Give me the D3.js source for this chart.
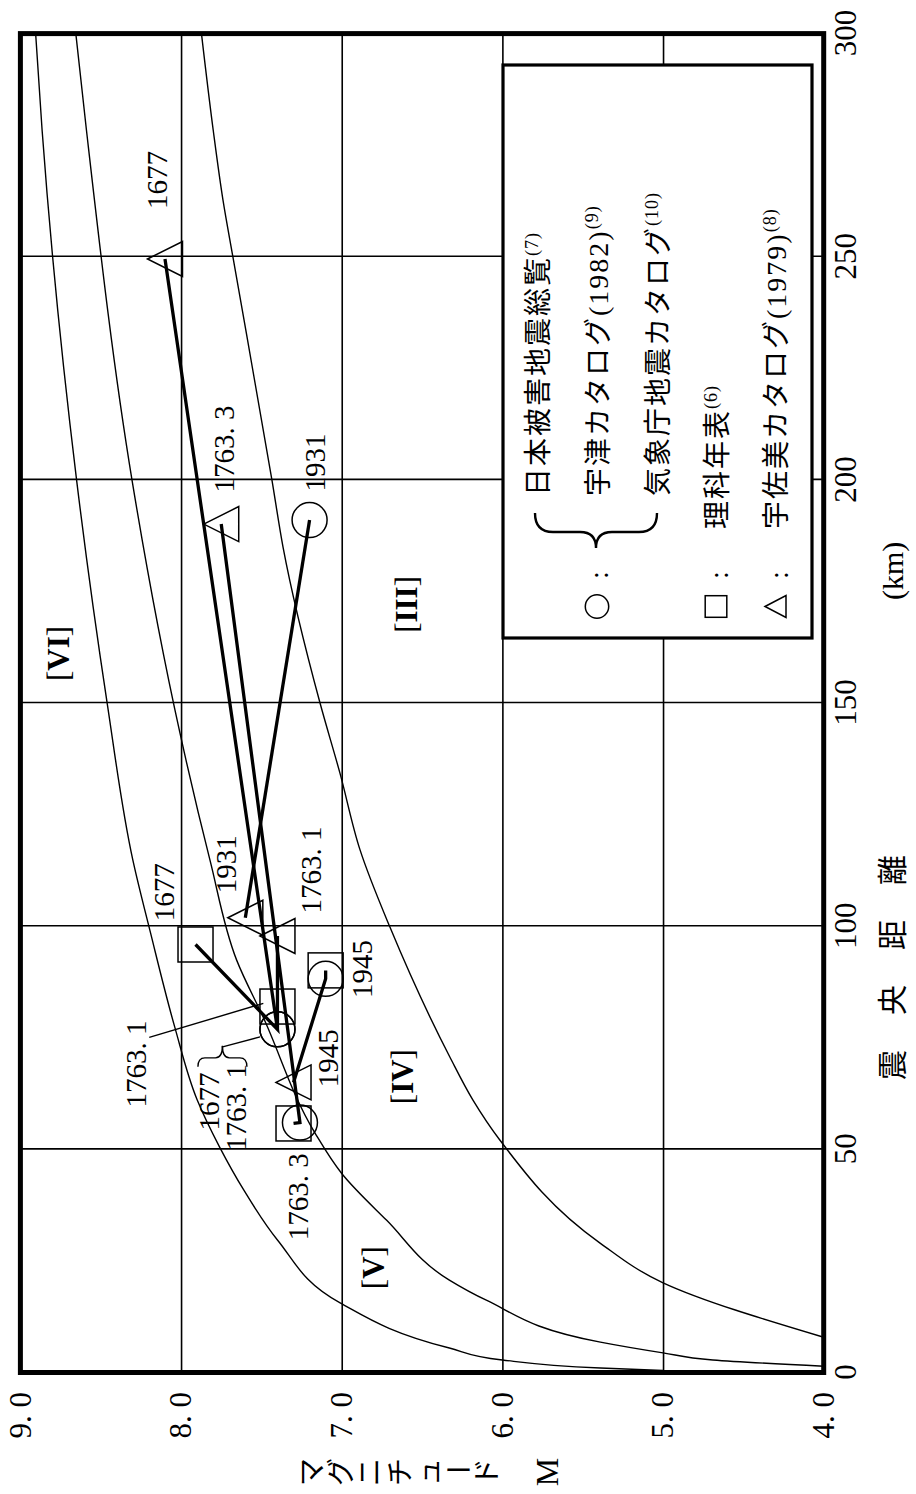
<!DOCTYPE html>
<html>
<head>
<meta charset="utf-8">
<style>
  body { margin: 0; background: #fff; }
  svg { display: block; }
  .serif { font-family: "Liberation Serif", "Noto Sans CJK JP", serif; }
  .jp { font-family: "Liberation Serif", "Noto Sans CJK JP", sans-serif; }
</style>
</head>
<body>
<script src="https://cdn.jsdelivr.net/npm/d3@7/dist/d3.min.js"></script>
<script>

// axis ticks
var distTicks = [0, 50, 100, 150, 200, 250, 300];
var magTicks = [4, 5, 6, 7, 8, 9];
var magTickLabels = ["4. 0", "5. 0", "6. 0", "7. 0", "8. 0", "9. 0"];

// intensity boundary curves: [epicentral distance km, M]
var curveVI = [[0.45, 5.0], [1.0, 5.39], [2.8, 6.0], [5.5, 6.33], [15.6, 7.01], [29.7, 7.40], [40.9, 7.61], [50.5, 7.76], [61.1, 7.90], [77.5, 8.04], [98.5, 8.19], [114.8, 8.30], [150, 8.46], [199.9, 8.65], [278.4, 8.865], [300, 8.905]];
var curveV = [[1.4, 4.0], [2.8, 4.69], [4.4, 5.0], [6.8, 5.39], [16.2, 6.10], [20.7, 6.33], [34.1, 6.72], [44.6, 7.00], [53.7, 7.167], [79.7, 7.49], [92.4, 7.654], [114.8, 7.82], [143.3, 8.007], [199.9, 8.305], [278.4, 8.589], [300, 8.655]];
var curveIV = [[7.9, 4.0], [20.1, 5.0], [29.0, 5.392], [52.1, 6.016], [61.1, 6.184], [70.7, 6.327], [99.8, 6.70], [117.1, 6.886], [134.3, 7.011], [150, 7.135], [184.9, 7.365], [199.9, 7.434], [249.9, 7.677], [262.7, 7.739], [278.4, 7.80], [300, 7.873]];

// earthquakes and the three sources
var quakes = ["1677", "1763.1", "1763.3", "1931", "1945"];
var circleDist = [76.9, 76.9, 56.0, 191.0, 88.2];     // 日本被害地震総覧 / 宇津 / 気象庁
var circleMag = [7.40, 7.40, 7.26, 7.20, 7.10];
var squareDist = [95.9, 82.0, 55.8, null, 90.1];     // 理科年表
var squareMag = [7.91, 7.40, 7.30, null, 7.10];
var triangleDist = [249.5, 97.8, 190.1, 101.9, 65.0]; // 宇佐美カタログ
var triangleMag = [8.10, 7.40, 7.75, 7.60, 7.30];

// point labels
var labelTexts = ["1677", "1763. 3", "1931", "1931", "1763. 1", "1945", "1945", "1763. 3", "1677", "1763. 1", "1677", "1763. 1"];
var labelDist = [267.2, 206.9, 203.9, 113.9, 112.6, 90.4, 70.4, 39.4, 107.6, 69.1, 60.7, 59.4];
var labelMag = [8.149, 7.733, 7.166, 7.720, 7.192, 6.871, 7.088, 7.275, 8.106, 8.280, 7.826, 7.658];
var leaderDist = [[75.1, 82.7], [72.9, 75.2]];
var leaderMag = [[8.198, 7.488], [7.747, 7.508]];

// intensity regions
var regionNames = ["VI", "V", "IV", "III"];
var regionDist = [161.1, 23.5, 66.3, 172.1];
var regionMag = [8.769, 6.808, 6.625, 6.600];

// legend
var legendLabels = ["日本被害地震総覧", "宇津カタログ(1982)", "気象庁地震カタログ", "理科年表", "宇佐美カタログ(1979)"];
var legendRefs = ["(7)", "(9)", "(10)", "(6)", "(8)"];

var svgW = 916, svgH = 1494;

var svg = d3.select("body").append("svg")
    .attr("width", svgW)
    .attr("height", svgH);

svg.append("rect").attr("width", svgW).attr("height", svgH).attr("fill", "#fff");

// whole figure is printed turned a quarter turn
var g = svg.append("g")
    .attr("transform", "translate(0," + svgH + ") rotate(-90)");

var x = d3.scaleLinear().domain([0, 300]).range([121.5, 1460.4]);
var y = d3.scaleLinear().domain([4, 9]).range([823.7, 20.4]);

g.append("clipPath").attr("id", "plot")
  .append("rect")
    .attr("x", x(0)).attr("y", y(9))
    .attr("width", x(300) - x(0)).attr("height", y(4) - y(9));

// grid
var gx = g.append("g")
    .attr("transform", "translate(0," + y(4) + ")")
    .call(d3.axisBottom(x).tickValues(distTicks.slice(1, -1)).tickSize(-(y(4) - y(9))).tickFormat(""));
gx.select(".domain").remove();
gx.selectAll("line").attr("stroke", "#000").attr("stroke-width", 1.6);

var gy = g.append("g")
    .attr("transform", "translate(" + x(0) + ",0)")
    .call(d3.axisLeft(y).tickValues(magTicks.slice(1, -1)).tickSize(-(x(300) - x(0))).tickFormat(""));
gy.select(".domain").remove();
gy.selectAll("line").attr("stroke", "#000").attr("stroke-width", 1.6);

// boundary curves
var curveLine = d3.line()
    .x(function(d) { return x(d[0]); })
    .y(function(d) { return y(d[1]); })
    .curve(d3.curveMonotoneX);

g.append("g").attr("clip-path", "url(#plot)")
  .selectAll("path")
    .data([curveVI, curveV, curveIV])
  .enter().append("path")
    .attr("d", curveLine)
    .attr("fill", "none")
    .attr("stroke", "#000")
    .attr("stroke-width", 1.4);

// legend box (covers grid)
var lg = g.append("g");
lg.append("rect")
    .attr("x", 856).attr("y", 503)
    .attr("width", 573).attr("height", 309)
    .attr("fill", "#fff")
    .attr("stroke", "#000")
    .attr("stroke-width", 3.2);

// connecting lines
var quakeLine = d3.line()
    .x(function(d) { return x(d[0]); })
    .y(function(d) { return y(d[1]); });

var quakePaths = quakes.map(function(q, i) {
  var pts = [[triangleDist[i], triangleMag[i]], [circleDist[i], circleMag[i]]];
  if (squareDist[i] != null) pts.push([squareDist[i], squareMag[i]]);
  return pts;
});

g.append("g").selectAll("path")
    .data(quakePaths)
  .enter().append("path")
    .attr("d", quakeLine)
    .attr("fill", "none")
    .attr("stroke", "#000")
    .attr("stroke-width", 3.3);

// markers
var mk = g.append("g").attr("fill", "none").attr("stroke", "#000").attr("stroke-width", 1.5);

mk.selectAll("circle")
    .data(quakes)
  .enter().append("circle")
    .attr("cx", function(d, i) { return x(circleDist[i]); })
    .attr("cy", function(d, i) { return y(circleMag[i]); })
    .attr("r", 17.5);

mk.selectAll("rect")
    .data(quakes.filter(function(d, i) { return squareDist[i] != null; }))
  .enter().append("rect")
    .attr("x", function(d) { var i = quakes.indexOf(d); return x(squareDist[i]) - 17.5; })
    .attr("y", function(d) { var i = quakes.indexOf(d); return y(squareMag[i]) - 17.5; })
    .attr("width", 35)
    .attr("height", 35);

mk.selectAll("path")
    .data(quakes)
  .enter().append("path")
    .attr("d", function(d, i) {
      var cx = x(triangleDist[i]), cy = y(triangleMag[i]);
      return "M" + cx + "," + (cy - 17.5) + "L" + (cx + 17.5) + "," + (cy + 17.5) + "L" + (cx - 17.5) + "," + (cy + 17.5) + "Z";
    });

// leader lines
g.append("g").selectAll("line")
    .data(leaderDist)
  .enter().append("line")
    .attr("x1", function(d) { return x(d[0]); })
    .attr("x2", function(d) { return x(d[1]); })
    .attr("y1", function(d, i) { return y(leaderMag[i][0]); })
    .attr("y2", function(d, i) { return y(leaderMag[i][1]); })
    .attr("stroke", "#000")
    .attr("stroke-width", 1.4);

// brace grouping "1677 / 1763.1"
(function() {
  var ua = x(68.5), ub = x(70.5), ut = x(73.2);
  var v1 = y(7.895), v2 = y(7.590), vm = (v1 + v2) / 2, r = 7;
  g.append("path")
      .attr("d", "M" + ua + "," + v1 + "Q" + ub + "," + v1 + " " + ub + "," + (v1 + r) +
        "L" + ub + "," + (vm - r) + "Q" + ub + "," + vm + " " + ut + "," + vm +
        "Q" + ub + "," + vm + " " + ub + "," + (vm + r) +
        "L" + ub + "," + (v2 - r) + "Q" + ub + "," + v2 + " " + ua + "," + v2)
      .attr("fill", "none")
      .attr("stroke", "#000")
      .attr("stroke-width", 1.4);
})();

// point labels
g.append("g").selectAll("text")
    .data(labelTexts)
  .enter().append("text")
    .attr("class", "serif")
    .attr("x", function(d, i) { return x(labelDist[i]); })
    .attr("y", function(d, i) { return y(labelMag[i]); })
    .attr("text-anchor", "middle")
    .attr("dominant-baseline", "central")
    .style("font-size", "29px")
    .text(function(d) { return d; });

// region labels
var rl = g.append("g").selectAll("text")
    .data(regionNames)
  .enter().append("text")
    .attr("class", "serif")
    .attr("x", function(d, i) { return x(regionDist[i]); })
    .attr("y", function(d, i) { return y(regionMag[i]); })
    .attr("text-anchor", "middle")
    .attr("dominant-baseline", "central")
    .style("font-size", "31px");
rl.append("tspan").text("[");
rl.append("tspan").style("font-weight", "bold").text(function(d) { return d; });
rl.append("tspan").text("]");

// frame
g.append("rect")
    .attr("x", x(0)).attr("y", y(9))
    .attr("width", x(300) - x(0)).attr("height", y(4) - y(9))
    .attr("fill", "none")
    .attr("stroke", "#000")
    .attr("stroke-width", 5);

// tick labels
var ax = g.append("g")
    .attr("transform", "translate(0," + y(4) + ")")
    .call(d3.axisBottom(x).tickValues(distTicks).tickSize(0).tickPadding(10.5).tickFormat(d3.format("d")));
ax.select(".domain").remove();
ax.selectAll("text").attr("class", "serif").attr("fill", "#000").style("font-size", "31px");

var ay = g.append("g")
    .attr("transform", "translate(" + x(0) + ",0)")
    .call(d3.axisLeft(y).tickValues(magTicks).tickSize(0).tickPadding(19.5)
      .tickFormat(function(d) { return magTickLabels[magTicks.indexOf(d)]; }));
ay.select(".domain").remove();
ay.selectAll("text").attr("class", "serif").attr("fill", "#000").style("font-size", "31px");

// axis titles
var dTitle = g.append("text")
    .attr("class", "jp")
    .attr("x", 414)
    .attr("y", 903)
    .style("font-size", "30px");
dTitle.append("tspan").style("letter-spacing", "35px").text("震央距離");
dTitle.append("tspan").attr("x", 894).text("(km)");

var mChars = ["マ", "グ", "ニ", "チ", "ュ", "ー", "ド"];
g.append("g").selectAll("text")
    .data(mChars)
  .enter().append("text")
    .attr("class", "jp")
    .attr("x", 22)
    .attr("y", function(d, i) { return 312.4 + 29.2 * i; })
    .attr("text-anchor", "middle")
    .attr("dominant-baseline", "central")
    .attr("transform", function(d, i) { return d === "ー" ? "rotate(90,22," + (312.4 + 29.2 * i) + ")" : null; })
    .style("font-size", "28px")
    .text(function(d) { return d; });

g.append("text")
    .attr("class", "serif")
    .attr("x", 22).attr("y", 547)
    .attr("text-anchor", "middle")
    .attr("dominant-baseline", "central")
    .style("font-size", "32px")
    .text("M");

// legend contents
var rowV = [548, 608, 668, 727, 786];
var rowStart = [998, 998, 998, 965, 965];

var lt = lg.selectAll("text.item")
    .data(legendLabels)
  .enter().append("text")
    .attr("class", "item jp")
    .attr("x", function(d, i) { return rowStart[i]; })
    .attr("y", function(d, i) { return rowV[i]; })
    .style("font-size", "28px")
    .style("letter-spacing", "2px");
lt.append("tspan").text(function(d) { return d; });
lt.append("tspan")
    .attr("dy", -10)
    .style("font-size", "18px")
    .style("letter-spacing", "1px")
    .text(function(d, i) { return legendRefs[i]; });

// colons
lg.selectAll("text.colon")
    .data([598, 718, 778])
  .enter().append("text")
    .attr("class", "colon serif")
    .attr("x", 919)
    .attr("y", function(d) { return d; })
    .attr("text-anchor", "middle")
    .attr("dominant-baseline", "central")
    .style("font-size", "28px")
    .text(":");

lg.append("circle")
    .attr("cx", 887.5).attr("cy", 597).attr("r", 11.7)
    .attr("fill", "none").attr("stroke", "#000").attr("stroke-width", 1.5);
lg.append("rect")
    .attr("x", 887.5 - 10.8).attr("y", 716 - 10.8).attr("width", 21.6).attr("height", 21.6)
    .attr("fill", "none").attr("stroke", "#000").attr("stroke-width", 1.5);
lg.append("path")
    .attr("d", "M887.5,765L898.5,786L876.5,786Z")
    .attr("fill", "none").attr("stroke", "#000").attr("stroke-width", 1.5);

// legend brace
lg.append("path")
    .attr("d", "M981,535Q962,535 962,553L962,580Q962,596 946,596Q962,596 962,612L962,639Q962,657 981,657")
    .attr("fill", "none")
    .attr("stroke", "#000")
    .attr("stroke-width", 2.4);

</script>
</body>
</html>
